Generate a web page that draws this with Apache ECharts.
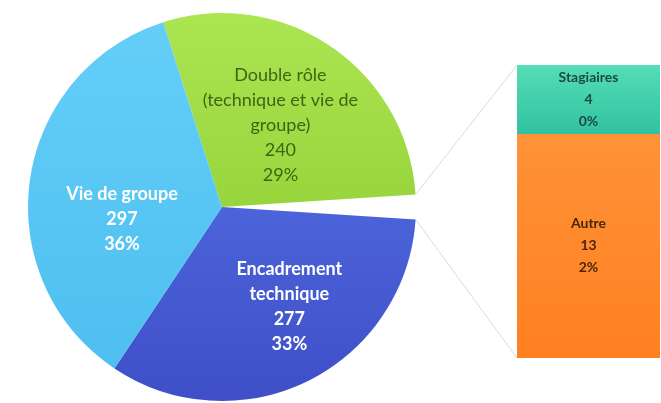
<!DOCTYPE html>
<html><head><meta charset="utf-8">
<script src="https://cdn.jsdelivr.net/npm/echarts@6/dist/echarts.min.js"></script>
<style>html,body{margin:0;padding:0;background:#fff}#c{width:661px;height:403px}</style>
</head><body><div id="c"></div>
<script>
// ---- data ----
const pieCategories = ['Double rôle\n(technique et vie de\ngroupe)', 'Encadrement\ntechnique', 'Vie de groupe'];
const pieValues = [240, 277, 297];
const barCategories = ['Autre', 'Stagiaires'];
const barValues = [13, 4];

// ---- layout / style ----
const PIE_CX = 222, PIE_CY = 207, PIE_R = 194;
const GRID = { left: 517, top: 65, width: 143, height: 293 };
const pieColors = [['#ace552', '#98d53c'], ['#4c63d9', '#3e4fc8'], ['#64cef8', '#4ebff0']];
const pieLabelColors = ['#3d6614', '#ffffff', '#ffffff'];
const pieLabelWeights = ['normal', 'bold', 'bold'];
const pieLabelShift = [[2, 1], [23, 10], [-1, 26]];
const barColors = [['#ff9238', '#ff8020'], ['#55ddb6', '#31c2a2']];
const barLabelColors = ['#4a2608', '#1a4a40'];
const barLabelWeights = ['bold', 'bold'];

const otherTotal = barValues.reduce((a, b) => a + b, 0);
const total = pieValues.reduce((a, b) => a + b, 0) + otherTotal;
const pct = v => Math.round(v / total * 100) + '%';
const grad = c => new echarts.graphic.LinearGradient(0, 0, 0, 1, [{offset: 0, color: c[0]}, {offset: 1, color: c[1]}]);

// pie order (clockwise): Double rôle, other (hidden), Encadrement, Vie de groupe
const pieData = [
  { name: pieCategories[0], value: pieValues[0], itemStyle: { color: grad(pieColors[0]) },
    label: { color: pieLabelColors[0], fontWeight: pieLabelWeights[0] } },
  { name: 'other', value: otherTotal, itemStyle: { color: 'rgba(0,0,0,0)' }, label: { show: false } },
  { name: pieCategories[1], value: pieValues[1], itemStyle: { color: grad(pieColors[1]) },
    label: { color: pieLabelColors[1], fontWeight: pieLabelWeights[1] } },
  { name: pieCategories[2], value: pieValues[2], itemStyle: { color: grad(pieColors[2]) },
    label: { color: pieLabelColors[2], fontWeight: pieLabelWeights[2] } }
];
const shiftByIndex = { 0: pieLabelShift[0], 2: pieLabelShift[1], 3: pieLabelShift[2] };
const startAngle = (pieValues[0] + otherTotal / 2) / total * 360;

// connector lines from the hidden slice edges to the bar corners
const half = otherTotal / total * Math.PI;
const pTop = [PIE_CX + PIE_R * Math.cos(half), PIE_CY - PIE_R * Math.sin(half)];
const pBot = [PIE_CX + PIE_R * Math.cos(half), PIE_CY + PIE_R * Math.sin(half)];

const chart = echarts.init(document.getElementById('c'), null, { renderer: 'canvas' });
chart.setOption({
  animation: false,
  backgroundColor: '#ffffff',
  grid: { left: GRID.left, top: GRID.top, width: GRID.width, height: GRID.height },
  xAxis: { type: 'category', data: ['autre'], show: false },
  yAxis: { type: 'value', min: 0, max: otherTotal, show: false },
  graphic: [
    { type: 'line', shape: { x1: pTop[0], y1: pTop[1], x2: GRID.left, y2: GRID.top },
      style: { stroke: '#dcdcdc', lineWidth: 1 }, z: 0 },
    { type: 'line', shape: { x1: pBot[0], y1: pBot[1], x2: GRID.left, y2: GRID.top + GRID.height },
      style: { stroke: '#dcdcdc', lineWidth: 1 }, z: 0 }
  ],
  series: [
    {
      type: 'pie',
      center: [PIE_CX, PIE_CY],
      radius: PIE_R,
      startAngle: startAngle,
      clockwise: true,
      silent: true,
      data: pieData,
      label: {
        show: true, position: 'inside',
        fontFamily: 'Lato', fontSize: 18, lineHeight: 25, align: 'center',
        formatter: p => p.name + '\n' + p.value + '\n' + pct(p.value)
      },
      labelLine: { show: false },
      labelLayout: p => {
        const s = shiftByIndex[p.dataIndex];
        return s ? { dx: s[0], dy: s[1] } : {};
      }
    }
  ].concat(barCategories.map((name, i) => ({
    type: 'bar',
    name: name,
    stack: 'autre',
    barWidth: '100%',
    silent: true,
    data: [barValues[i]],
    itemStyle: { color: grad(barColors[i]) },
    label: {
      show: true, position: 'inside',
      fontFamily: 'Lato', fontSize: 14, lineHeight: 22,
      color: barLabelColors[i], fontWeight: barLabelWeights[i],
      formatter: p => name + '\n' + p.value + '\n' + pct(p.value)
    }
  })))
});
</script>
</body></html>
